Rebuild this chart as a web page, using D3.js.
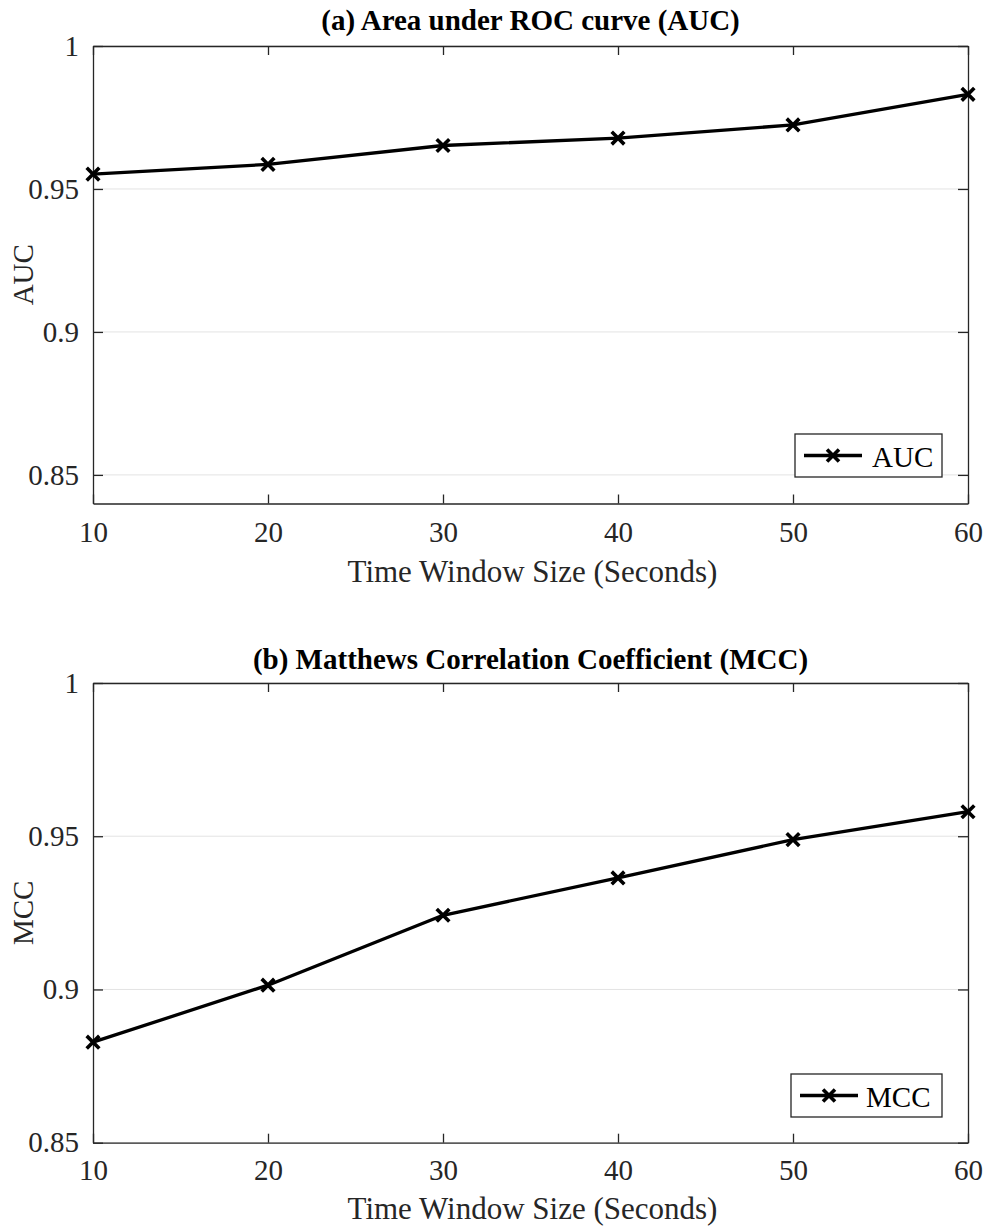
<!DOCTYPE html>
<html>
<head>
<meta charset="utf-8">
<script src="https://cdn.jsdelivr.net/npm/d3@7"></script>
<style>
  body { margin: 0; background: #fff; }
  svg { display: block; }
  svg text { font-family: "Times New Roman", Times, "Liberation Serif", serif !important; fill: #262626; }
</style>
</head>
<body>
<svg id="chart" width="988" height="1227"></svg>
<script>
const windowSizes = [10, 20, 30, 40, 50, 60];
const aucValues = [0.9552, 0.9586, 0.9652, 0.9678, 0.9724, 0.9831];
const mccValues = [0.8828, 0.9014, 0.9242, 0.9364, 0.9489, 0.9580];
const xTicks = [10, 20, 30, 40, 50, 60];
const aucTicks = [0.85, 0.9, 0.95, 1];
const mccTicks = [0.85, 0.9, 0.95, 1];

const svg = d3.select("#chart");
const fmt = d => d === 1 ? "1" : String(d);

function panel(cfg) {
  const { top, bottom, left, right, domain, values, ticks, title, titleY, ylab, label, legend } = cfg;
  const x = d3.scaleLinear().domain([10, 60]).range([left, right]);
  const y = d3.scaleLinear().domain(domain).range([bottom, top]);
  const g = svg.append("g");

  g.selectAll(".grid").data(ticks).join("line")
    .attr("x1", left).attr("x2", right)
    .attr("y1", d => y(d)).attr("y2", d => y(d))
    .attr("stroke", "#e3e3e3").attr("stroke-width", 1);

  const axStyle = sel => {
    sel.attr("font-family", null).attr("font-size", null);
    sel.select(".domain").attr("stroke", "#262626").attr("stroke-width", 1.3);
    sel.selectAll(".tick line").attr("stroke", "#262626").attr("stroke-width", 1.3);
    sel.selectAll(".tick text").style("font-size", "29px").attr("fill", "#262626");
  };
  g.append("g").attr("transform", `translate(0,${bottom})`)
    .call(d3.axisBottom(x).tickValues(xTicks).tickSize(-9).tickSizeOuter(0).tickPadding(cfg.xPad).tickFormat(d3.format("d")))
    .call(axStyle);
  g.append("g").attr("transform", `translate(0,${top})`)
    .call(d3.axisTop(x).tickValues(xTicks).tickSize(-9).tickSizeOuter(0).tickFormat(""))
    .call(axStyle);
  g.append("g").attr("transform", `translate(${left},0)`)
    .call(d3.axisLeft(y).tickValues(ticks).tickSize(-10).tickSizeOuter(0).tickPadding(14).tickFormat(fmt))
    .call(axStyle);
  g.append("g").attr("transform", `translate(${right},0)`)
    .call(d3.axisRight(y).tickValues(ticks).tickSize(-10).tickSizeOuter(0).tickFormat(""))
    .call(axStyle);

  const pts = windowSizes.map((w, i) => [w, values[i]]);
  g.append("path").datum(pts)
    .attr("fill", "none").attr("stroke", "#000").attr("stroke-width", 3.3)
    .attr("stroke-linejoin", "round")
    .attr("d", d3.line().x(d => x(d[0])).y(d => y(d[1])));
  const cross = (sel, s) => sel.attr("d", `M${-s},${-s}L${s},${s}M${-s},${s}L${s},${-s}`)
    .attr("stroke", "#000").attr("stroke-width", 3.6).attr("fill", "none");
  g.selectAll(".mk").data(pts).join("path")
    .attr("transform", d => `translate(${x(d[0])},${y(d[1])})`)
    .call(cross, 6.3);

  svg.append("text").attr("x", (left + right) / 2).attr("y", titleY)
    .attr("text-anchor", "middle").style("font-size", "29px").style("font-weight", "bold")
    .style("fill", "#000").text(title);
  svg.append("text").attr("x", (left + right) / 2 + 2).attr("y", bottom + cfg.xlabOff)
    .attr("text-anchor", "middle").style("font-size", "31px").text("Time Window Size (Seconds)");
  svg.append("text")
    .attr("transform", `translate(${33},${(top + bottom) / 2}) rotate(-90)`)
    .attr("text-anchor", "middle").style("font-size", "29px").text(ylab);

  const lg = svg.append("g");
  lg.append("rect").attr("x", legend.x).attr("y", legend.y).attr("width", legend.w).attr("height", legend.h)
    .attr("fill", "#fff").attr("stroke", "#262626").attr("stroke-width", 1.3);
  const cy = legend.y + legend.h / 2;
  lg.append("line").attr("x1", legend.x + 9).attr("x2", legend.x + 67)
    .attr("y1", cy).attr("y2", cy).attr("stroke", "#000").attr("stroke-width", 3.3);
  lg.append("path").attr("transform", `translate(${legend.x + 38},${cy})`).call(cross, 6);
  lg.append("text").attr("x", legend.x + legend.tx).attr("y", cy + 11)
    .style("font-size", "29px").style("fill", "#000").text(label);
}

panel({ top: 46, bottom: 503.5, left: 93, right: 968, domain: [0.84, 1], values: aucValues, ticks: aucTicks,
  title: "(a) Area under ROC curve (AUC)", titleY: 30, ylab: "AUC", label: "AUC", xPad: 17.5, xlabOff: 78,
  legend: { x: 795, y: 434, w: 147, h: 43, tx: 77 } });
panel({ top: 683, bottom: 1142.7, left: 93, right: 968, domain: [0.85, 1], values: mccValues, ticks: mccTicks,
  title: "(b) Matthews Correlation Coefficient (MCC)", titleY: 669, ylab: "MCC", label: "MCC", xPad: 16.5, xlabOff: 76,
  legend: { x: 791, y: 1074, w: 151, h: 43, tx: 75 } });
</script>
</body>
</html>
